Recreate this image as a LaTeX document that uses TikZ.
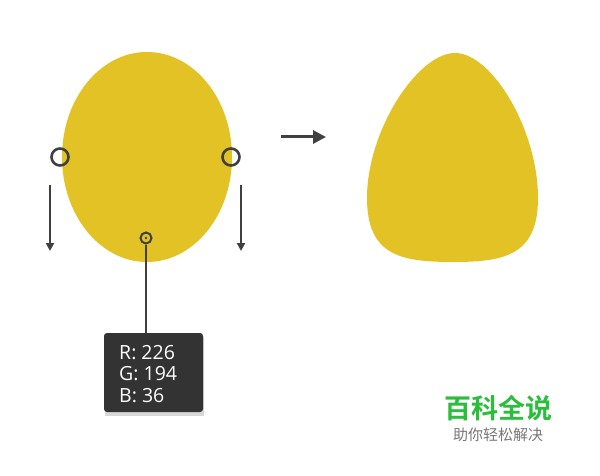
\documentclass[tikz,border=0pt]{standalone}
\usepackage{fontspec}
\setsansfont{Open Sans}
\newfontfamily\cjk{Noto Sans CJK SC}
\newfontfamily\cjkbold{Noto Sans CJK SC Bold}
\usetikzlibrary{arrows.meta,shapes.geometric}
\definecolor{eggyellow}{RGB}{226,194,36}
\definecolor{handle}{RGB}{64,64,64}
\definecolor{boxdark}{RGB}{51,51,51}
\definecolor{logogreen}{RGB}{43,190,60}
\definecolor{logogray}{RGB}{120,120,120}
\tikzset{
  anchorring/.style={circle, draw=handle, line width=2.6pt, minimum size=17pt, inner sep=0pt},
  downarrow/.style={draw=handle, line width=2pt, -{Triangle[length=8pt,width=8pt]}},
  infobox/.style={rectangle, rounded corners=3pt, fill=boxdark, text=white, align=left,
    minimum width=99pt, minimum height=79pt, inner sep=0pt},
}
\begin{document}
\begin{tikzpicture}[x=1pt,y=-1pt]
\useasboundingbox (0,0) rectangle (600,476);
\fill[white] (0,0) rectangle (600,476);
% left ellipse
\fill[eggyellow] (147,157) ellipse [x radius=85, y radius=105];
% anchor rings
\node[anchorring] (ringL) at (60,157) {};
\node[anchorring] (ringR) at (231,157) {};
% down arrows
\coordinate (aLs) at (50,185); \coordinate (aLe) at (50,251);
\coordinate (aRs) at (241,185); \coordinate (aRe) at (241,251);
\draw[downarrow] (aLs) -- (aLe);
\draw[downarrow] (aRs) -- (aRe);
% color picker
\fill[black!25,opacity=0.6] (105,337) rectangle (204,416);
\node[infobox] (info) at (153.5,372.5) {};
\node[anchor=west, text=white, align=left, inner sep=0pt, font=\sffamily\fontsize{19.5}{21.5}\selectfont] (infotext) at (119,374) {R: 226\\G: 194\\B: 36};
\node[circle, draw=handle, line width=2pt, minimum size=11pt, inner sep=0pt, fill=eggyellow] (pick) at (146,238) {};
\draw[handle, line width=2.2pt] (pick.south) -- (info.north -| pick);
\fill[handle] (pick) circle (1.4pt);
% right arrow
\coordinate (rs) at (281,137); \coordinate (re) at (326,137);
\draw[draw=handle, line width=3pt, -{Triangle[length=13pt,width=13pt]}] (rs) -- (re);
% egg shape
\fill[eggyellow] (455,53)
  .. controls (492,53) and (538,130) .. (538,198)
  .. controls (538,255) and (505,262) .. (453,262)
  .. controls (400,262) and (367,255) .. (367,198)
  .. controls (367,130) and (418,53) .. (455,53) -- cycle;
% logo
\node[text=logogreen, font=\cjkbold\fontsize{27}{30}\selectfont, inner sep=0pt] (logo) at (498,408) {百科全说};
\node[text=logogray, font=\cjk\fontsize{15}{17}\selectfont, inner sep=0pt] (slogan) at (498,435) {助你轻松解决};
\end{tikzpicture}
\end{document}
